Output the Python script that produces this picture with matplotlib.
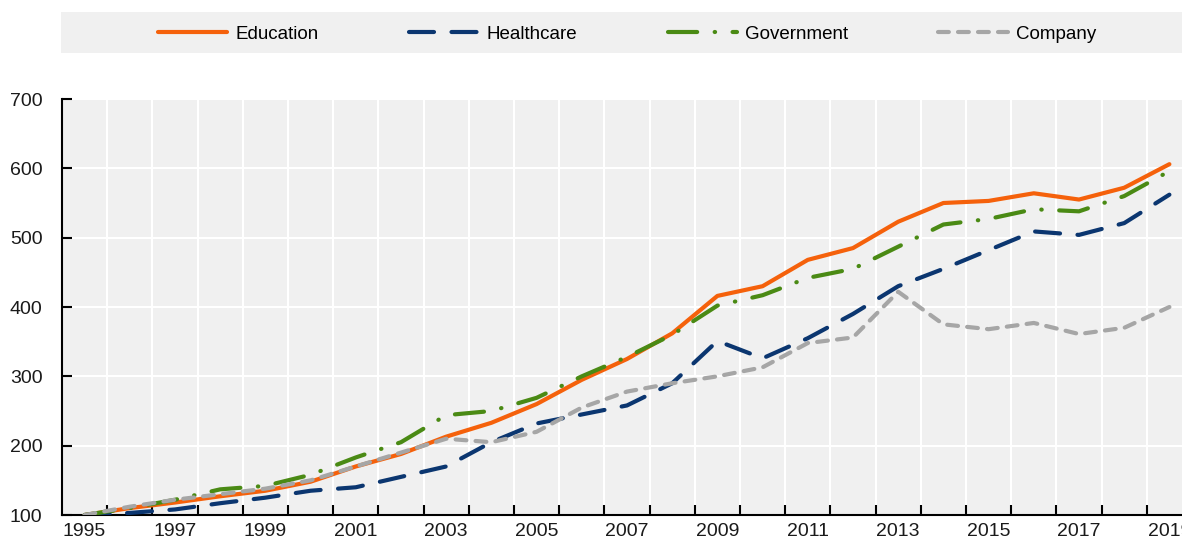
import matplotlib
matplotlib.use('Agg')
import matplotlib.pyplot as plt
from matplotlib.patches import Rectangle
import numpy as np

plt.rcParams['font.family'] = ['Liberation Sans Narrow', 'Liberation Sans', 'DejaVu Sans']

years = list(range(1995, 2020))
education = [100, 110, 118, 127, 135, 148, 170, 188, 213, 233, 260, 295, 325, 362, 416,
             430, 468, 485, 523, 550, 553, 564, 555, 572, 606]
healthcare = [100, 103, 108, 117, 125, 135, 140, 155, 170, 205, 232, 245, 258, 290, 351,
              326, 355, 390, 430, 455, 482, 509, 504, 521, 562]
government = [100, 110, 122, 137, 142, 158, 183, 205, 244, 250, 269, 300, 328, 360, 402,
              417, 442, 455, 487, 519, 527, 541, 538, 560, 596]
company = [100, 112, 122, 130, 138, 150, 170, 190, 210, 205, 220, 255, 278, 290, 300,
           313, 348, 356, 422, 375, 368, 377, 361, 370, 400]

W, H = 1182, 541
fig = plt.figure(figsize=(W / 100, H / 100), dpi=100)
ax = fig.add_axes([62 / W, (H - 515) / H, (1192 - 62) / W, (515 - 99) / H])
ax.set_facecolor('#f0f0f0')

x = np.arange(len(years))
lw = 3.0
ax.plot(x, education, color='#f5610b', lw=lw, solid_capstyle='round',
        solid_joinstyle='round', label='Education', zorder=3)
ax.plot(x, healthcare, color='#0b3670', lw=lw, dashes=(6.0, 4.2),
        dash_capstyle='round', dash_joinstyle='round', label='Healthcare', zorder=3)
ax.plot(x, government, color='#4a8a14', lw=lw, dashes=(7.0, 4.2, 0.1, 4.2),
        dash_capstyle='round', dash_joinstyle='round', label='Government', zorder=3)
ax.plot(x, company, color='#a6a6a6', lw=lw, dashes=(2.6, 2.2),
        dash_capstyle='round', dash_joinstyle='round', label='Company', zorder=3)

ax.set_xlim(-0.5, len(years) - 0.5)
ax.set_ylim(100, 700)

ax.set_xticks(x[::2])
ax.set_xticklabels([str(y) for y in years[::2]])
ax.set_xticks(np.arange(0.5, len(years) - 0.5, 1), minor=True)
ax.set_yticks(range(100, 701, 100))

ax.tick_params(axis='x', which='major', length=0, pad=6, labelsize=14, colors='#1a1a1a')
ax.tick_params(axis='x', which='minor', direction='in', length=7, width=1.5, color='black')
ax.tick_params(axis='y', which='major', direction='in', length=7, width=1.5,
               pad=14, labelsize=14, labelcolor='#1a1a1a', color='black')

ax.grid(False)
ax.grid(True, axis='x', which='minor', color='white', lw=1.5, zorder=1)
ax.grid(True, axis='y', which='major', color='white', lw=1.5, zorder=1)
ax.set_axisbelow(True)

for s in ['top', 'right']:
    ax.spines[s].set_visible(False)
for s in ['left', 'bottom']:
    ax.spines[s].set_linewidth(1.5)
    ax.spines[s].set_color('black')

fig.add_artist(Rectangle((61 / W, 1 - 53 / H), (W - 61) / W, 41 / H,
                         transform=fig.transFigure, facecolor='#f0f0f0',
                         edgecolor='none', zorder=0))
handles, labels = ax.get_legend_handles_labels()
fig.legend(handles, labels, loc='center left', bbox_to_anchor=(158 / W, 1 - 34 / H),
           ncol=4, frameon=False, fontsize=13.5, borderpad=0, borderaxespad=0,
           handlelength=3.7, handletextpad=0.45, columnspacing=4.8)

fig.savefig('out.png', dpi=100)
